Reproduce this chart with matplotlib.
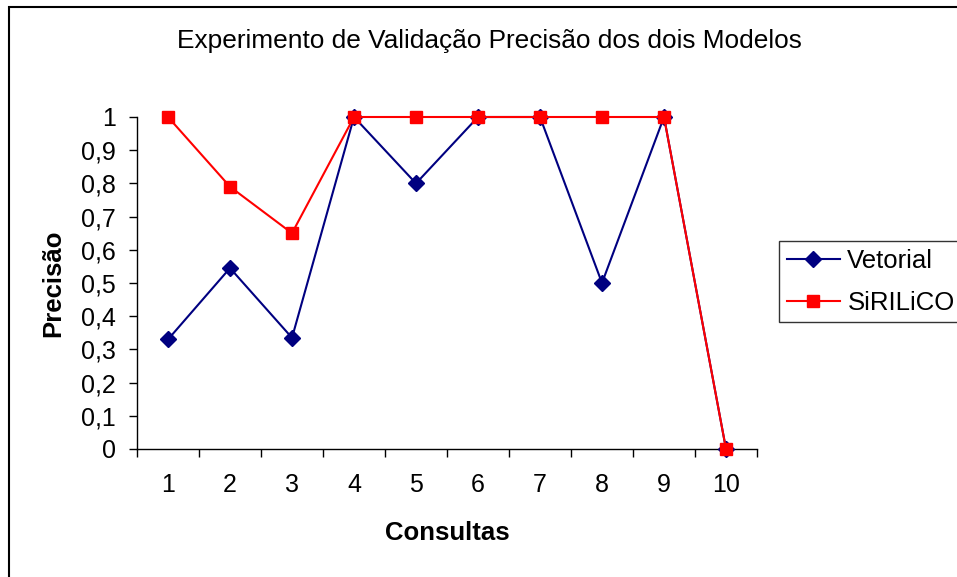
import matplotlib.pyplot as plt
import matplotlib.patches as patches
from matplotlib.ticker import FixedLocator, FuncFormatter

plt.rcParams['font.family'] = ['Liberation Sans', 'DejaVu Sans']

consultas = [1, 2, 3, 4, 5, 6, 7, 8, 9, 10]
vetorial = [0.33, 0.545, 0.335, 1, 0.8, 1, 1, 0.5, 1, 0]
sirilico = [1, 0.79, 0.65, 1, 1, 1, 1, 1, 1, 0]
yticks = [0, 0.1, 0.2, 0.3, 0.4, 0.5, 0.6, 0.7, 0.8, 0.9, 1]

fig = plt.figure(figsize=(9.57, 5.77), dpi=100)
ax = fig.add_axes([137 / 957, 1 - 449 / 577, 620 / 957, 332 / 577])

ax.plot(consultas, vetorial, color='#000080', lw=1.5, marker='D', markersize=8,
        label='Vetorial', clip_on=False, zorder=3)
ax.plot(consultas, sirilico, color='#ff0000', lw=1.5, marker='s', markersize=8.5,
        label='SiRILiCO', clip_on=False, zorder=4)

ax.set_xlim(0.5, 10.5)
ax.set_ylim(0, 1)
ax.set_xticks(consultas)
ax.xaxis.set_minor_locator(FixedLocator([i + 0.5 for i in range(0, 11)]))
ax.tick_params(axis='x', which='major', length=0, pad=17, labelsize=18)
ax.tick_params(axis='x', which='minor', length=6, width=1, direction='out')
ax.set_yticks(yticks)
ax.yaxis.set_major_formatter(FuncFormatter(lambda v, p: ('%g' % v).replace('.', ',')))
ax.tick_params(axis='y', length=6, width=1, direction='out', pad=9, labelsize=18)

for s in ['top', 'right']:
    ax.spines[s].set_visible(False)
for s in ['left', 'bottom']:
    ax.spines[s].set_linewidth(1)

ax.set_xlabel('Consultas', fontsize=18.5, fontweight='bold', va='center')
ax.xaxis.set_label_coords(0.5, (449 - 533) / 332)
ax.set_ylabel('Precisão', fontsize=18.5, fontweight='bold', va='center')
ax.yaxis.set_label_coords((53 - 137) / 620, 0.5)
fig.text(489 / 957, 1 - 41 / 577, 'Experimento de Validação Precisão dos dois Modelos',
         ha='center', va='center', fontsize=18.9)

leg = ax.legend(loc='upper left', bbox_to_anchor=(779 / 957, 1 - 241 / 577),
                bbox_transform=fig.transFigure, fontsize=18.5, frameon=True,
                fancybox=False, edgecolor='black', borderaxespad=0,
                handlelength=2.06, handletextpad=0.3, borderpad=0.3, labelspacing=0.7)
leg.get_frame().set_linewidth(1)

fig.patches.append(patches.Rectangle((9 / 957, -0.05), 1.0, 1 - 7 / 577 + 0.05,
                                     transform=fig.transFigure, fill=False,
                                     edgecolor='black', lw=1.5))

fig.savefig('out.png', dpi=100)
